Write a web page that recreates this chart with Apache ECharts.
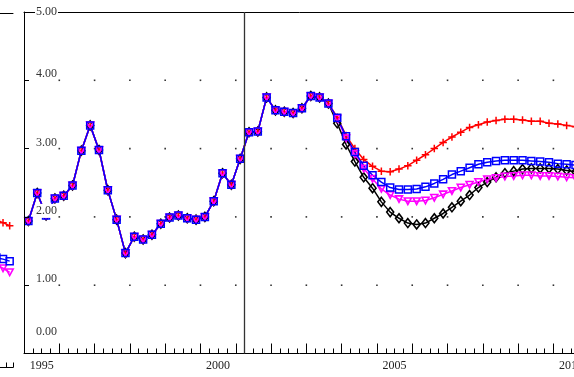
<!DOCTYPE html>
<html><head><meta charset="utf-8">
<script src="https://cdn.jsdelivr.net/npm/echarts@6/dist/echarts.min.js"></script>
<style>html,body{margin:0;padding:0;background:#fff;}#c{width:574px;height:377px;}</style>
</head><body><div id="c"></div>
<script>
// ---- data ----
const firstYear = 1995;               // first quarter shown: 1995Q1
const forecastStart = 2001.25;        // vertical marker
// common history, 1995Q1 .. 2003Q3
const history = [1.94,2.35,2.02,2.27,2.31,2.46,2.97,3.34,2.98,2.39,1.96,1.47,1.71,1.67,1.74,1.90,1.99,2.02,1.98,1.96,2.00,2.23,2.64,2.47,2.85,3.24,3.25,3.75,3.56,3.54,3.52,3.59,3.77,3.75,3.66];
// scenarios from 2003Q4
const redPath     = [3.46,3.19,3.00,2.84,2.74,2.67,2.66,2.70,2.75,2.83,2.91,3.00,3.09,3.17,3.24,3.31,3.35,3.39,3.41,3.43,3.43,3.42,3.40,3.40,3.37,3.36,3.34,3.32];
const bluePath    = [3.45,3.18,2.95,2.75,2.61,2.51,2.43,2.40,2.40,2.41,2.44,2.49,2.55,2.62,2.67,2.72,2.77,2.80,2.82,2.83,2.83,2.83,2.82,2.81,2.80,2.78,2.77,2.76];
const magentaPath = [3.44,3.15,2.92,2.71,2.56,2.41,2.32,2.26,2.23,2.23,2.24,2.28,2.33,2.38,2.43,2.47,2.51,2.55,2.57,2.59,2.60,2.61,2.61,2.60,2.60,2.59,2.58,2.57];
const blackPath   = [3.37,3.06,2.81,2.58,2.42,2.22,2.07,1.98,1.91,1.89,1.91,1.98,2.05,2.14,2.23,2.32,2.43,2.51,2.58,2.64,2.67,2.70,2.71,2.71,2.71,2.70,2.68,2.66];
// neighbouring panel (only its last quarters are visible)
const leftQuarters = [29.5,30.5,31.5];
const leftRed     = [2.91,2.86,2.80];
const leftBlue    = [2.17,2.14,2.10];
const leftMagenta = [2.02,1.96,1.88];
// y tick labels / grid dots
const yLevels = [1,2,3,4];
const yearMarks = [1996,1997,1998,1999,2000,2001,2002,2003,2004,2005,2006,2007,2008,2009,2010,2011];

// ---- build ----
const font = 'Liberation Serif';
function toPoints(vals){ return vals.map((v,k)=>[firstYear + k*0.25 + 0.125, v]); }
const redData = toPoints(history.concat(redPath));
const blueData = toPoints(history.concat(bluePath));
const magData = toPoints(history.concat(magentaPath));
const blackData = toPoints(history.concat(blackPath));
const dots = [];
yearMarks.forEach(x=>yLevels.forEach(y=>dots.push([x,y])));
const pair = (xs, ys) => xs.map((x,i)=>[x, ys[i]]);

const T = 'rgba(0,0,0,0)';
const plusPath = 'path://M4,0H6V4H10V6H6V10H4V6H0V4H4Z';
const triPath = 'path://M0,0L10,0L5,9Z';

const chart = echarts.init(document.getElementById('c'));
chart.setOption({
  animation:false,
  backgroundColor:'#fff',
  grid:[
    {left:24, top:12, width:600, height:341.5, outerBoundsMode:'none', containLabel:false},
    {left:-200, top:13, width:213, height:354.5, outerBoundsMode:'none', containLabel:false}
  ],
  xAxis:[
    {gridIndex:0, type:'value', min:1995, max:2012, interval:0.25, position:'bottom',
     axisLine:{lineStyle:{color:'#000', width:1}},
     axisTick:{inside:true, length:5, lineStyle:{color:'#000'}},
     axisLabel:{margin:6, fontFamily:font, fontSize:12, color:'#222',
       formatter:v=>{const y=v-0.5; return (Math.abs(y-Math.round(y))<1e-6 && Math.round(y)%5===0)? String(Math.round(y)) : '';}},
     splitLine:{show:false}},
    {gridIndex:0, type:'value', min:1995, max:2012, interval:1, position:'bottom',
     axisLine:{show:false}, axisTick:{inside:true, length:10, lineStyle:{color:'#000'}},
     axisLabel:{show:false}, splitLine:{show:false}},
    {gridIndex:0, type:'value', min:1995, max:2012, position:'top',
     axisLine:{lineStyle:{color:'#000', width:1}}, axisTick:{show:false}, axisLabel:{show:false}, splitLine:{show:false}},
    {gridIndex:1, type:'value', min:0, max:32, interval:1, position:'bottom',
     axisLine:{lineStyle:{color:'#000'}}, axisTick:{inside:true, length:5, lineStyle:{color:'#000'}},
     axisLabel:{show:false}, splitLine:{show:false}},
    {gridIndex:1, type:'value', min:0, max:32, position:'top',
     axisLine:{lineStyle:{color:'#000'}}, axisTick:{show:false}, axisLabel:{show:false}, splitLine:{show:false}}
  ],
  yAxis:[
    {gridIndex:0, type:'value', min:0, max:5, interval:1, position:'left', z:10,
     axisLine:{show:true, lineStyle:{color:'#000', width:1}},
     axisTick:{show:true, inside:true, length:5, lineStyle:{color:'#000'}},
     splitLine:{show:false},
     axisLabel:{inside:true, margin:11,
       formatter:v=>{const s=v.toFixed(2); if(v===5) return '{a|'+s+'}'; if(v===0) return '{a|'+s+'}\n{z| }'; return '{a|'+s+'}\n{s| }';},
       rich:{
         a:{fontFamily:font, fontSize:12, color:'#333', backgroundColor:'#fff', padding:[1,1,1,1], lineHeight:14},
         s:{fontSize:10, lineHeight:12, height:12},
         z:{fontSize:10, lineHeight:44, height:44}
       }}},
    {gridIndex:1, type:'value', min:0, max:7, interval:1, position:'right',
     axisLine:{show:true, lineStyle:{color:'#000'}},
     axisTick:{show:true, inside:true, length:4, lineStyle:{color:'#000'}},
     axisLabel:{show:false}, splitLine:{show:false}}
  ],
  series:[
    {type:'scatter', xAxisIndex:0, yAxisIndex:0, data:dots, symbol:'rect', symbolSize:1.6,
     itemStyle:{color:'#000'}, silent:true, z:1},
    {type:'line', name:'black', xAxisIndex:0, yAxisIndex:0, data:blackData, showAllSymbol:true,
     symbol:'diamond', symbolSize:[7,9],
     itemStyle:{color:T, borderColor:'#000', borderWidth:1.6},
     lineStyle:{color:'#000', width:1.5},
     markLine:{silent:true, symbol:['none','none'], label:{show:false},
       lineStyle:{color:'#333', width:1.3, type:'solid'}, data:[{xAxis:forecastStart}]}},
    {type:'line', name:'red', xAxisIndex:0, yAxisIndex:0, data:redData, showAllSymbol:true,
     symbol:plusPath, symbolSize:7.5, itemStyle:{color:'#ff0000'}, lineStyle:{color:'#ff0000', width:1.5}},
    {type:'line', name:'magenta', xAxisIndex:0, yAxisIndex:0, data:magData, showAllSymbol:true,
     symbol:triPath, symbolSize:[7,6.5], itemStyle:{color:T, borderColor:'#ff00ff', borderWidth:1.6},
     lineStyle:{color:'#ff00ff', width:1.5}},
    {type:'line', name:'blue', xAxisIndex:0, yAxisIndex:0, data:blueData, showAllSymbol:true,
     symbol:'rect', symbolSize:7, itemStyle:{color:T, borderColor:'#0000ff', borderWidth:1.5},
     lineStyle:{color:'#0000ff', width:1.5}},
    {type:'line', xAxisIndex:3, yAxisIndex:1, data:pair(leftQuarters,leftRed), showAllSymbol:true,
     symbol:plusPath, symbolSize:7.5, itemStyle:{color:'#ff0000'}, lineStyle:{color:'#ff0000', width:1.5}},
    {type:'line', xAxisIndex:3, yAxisIndex:1, data:pair(leftQuarters,leftMagenta), showAllSymbol:true,
     symbol:triPath, symbolSize:[7,6.5], itemStyle:{color:T, borderColor:'#ff00ff', borderWidth:1.6},
     lineStyle:{color:'#ff00ff', width:1.5}},
    {type:'line', xAxisIndex:3, yAxisIndex:1, data:pair(leftQuarters,leftBlue), showAllSymbol:true,
     symbol:'rect', symbolSize:7, itemStyle:{color:T, borderColor:'#0000ff', borderWidth:1.5},
     lineStyle:{color:'#0000ff', width:1.5}}
  ]
});
</script></body></html>
